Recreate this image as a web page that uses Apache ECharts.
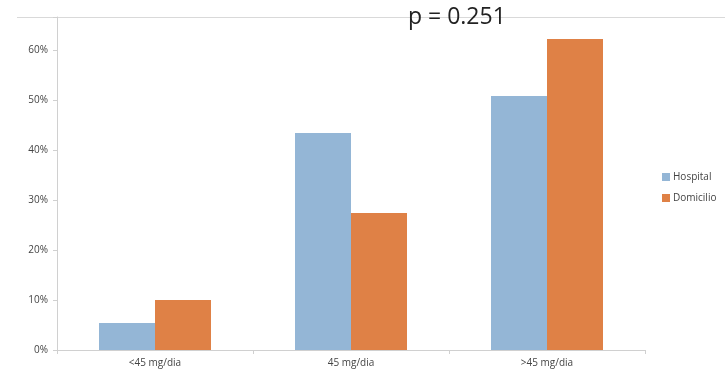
<!DOCTYPE html>
<html>
<head>
<meta charset="utf-8">
<script src="https://cdn.jsdelivr.net/npm/echarts@6/dist/echarts.min.js"></script>
<style>
  html, body { margin: 0; padding: 0; background: #fff; }
  #chart { width: 725px; height: 377px; }
</style>
</head>
<body>
<div id="chart"></div>
<script>
var categories = ['<45 mg/dia', '45 mg/dia', '>45 mg/dia'];
var hospital = [5.4, 43.4, 50.8];
var domicilio = [10.0, 27.4, 62.2];
var yTicks = [0, 10, 20, 30, 40, 50, 60];

var myChart = echarts.init(document.getElementById('chart'));

option = {
    backgroundColor: '#fff',
    animation: false,
    title: {
        text: 'p = 0.251',
        left: 403,
        top: 1,
        textStyle: {
            fontFamily: 'Open Sans',
            fontSize: 23,
            fontWeight: 'normal',
            color: '#222'
        }
    },
    legend: {
        orient: 'vertical',
        left: 657,
        top: 167,
        itemWidth: 8,
        itemHeight: 8,
        itemGap: 11,
        icon: 'rect',
        textStyle: { fontSize: 10, color: '#444', fontFamily: 'Open Sans', padding: [0, 0, 0, -2] },
        data: ['Hospital', 'Domicilio']
    },
    grid: {
        left: 57,
        right: 80,
        top: 17,
        bottom: 27
    },
    graphic: [{
        type: 'line',
        shape: { x1: 17, y1: 17.5, x2: 725, y2: 17.5 },
        style: { stroke: '#d9d9d9', lineWidth: 1 },
        z: 0
    }],
    xAxis: {
        type: 'category',
        data: categories,
        axisLine: { lineStyle: { color: '#d0d0d0' } },
        axisTick: { show: true, length: 4, lineStyle: { color: '#d0d0d0' } },
        axisLabel: { color: '#444', fontSize: 10, fontFamily: 'Open Sans', margin: 8 }
    },
    yAxis: {
        type: 'value',
        min: 0,
        max: 66.6,
        interval: 10,
        splitLine: { show: false },
        axisLine: { show: true, lineStyle: { color: '#d0d0d0' } },
        axisTick: { show: true, length: 4, lineStyle: { color: '#d0d0d0' } },
        axisLabel: {
            color: '#444',
            fontSize: 10,
            fontFamily: 'Open Sans',
            margin: 9,
            formatter: function (v) {
                return yTicks.indexOf(Math.round(v)) >= 0 && Math.abs(v - Math.round(v)) < 0.01 ? v + '%' : '';
            }
        }
    },
    series: [
        {
            name: 'Hospital',
            type: 'bar',
            color: '#94b6d6',
            barWidth: 56,
            barGap: '0%',
            data: hospital
        },
        {
            name: 'Domicilio',
            type: 'bar',
            color: '#df8146',
            barWidth: 56,
            barGap: '0%',
            data: domicilio
        }
    ]
};
myChart.setOption(option);
</script>
</body>
</html>
